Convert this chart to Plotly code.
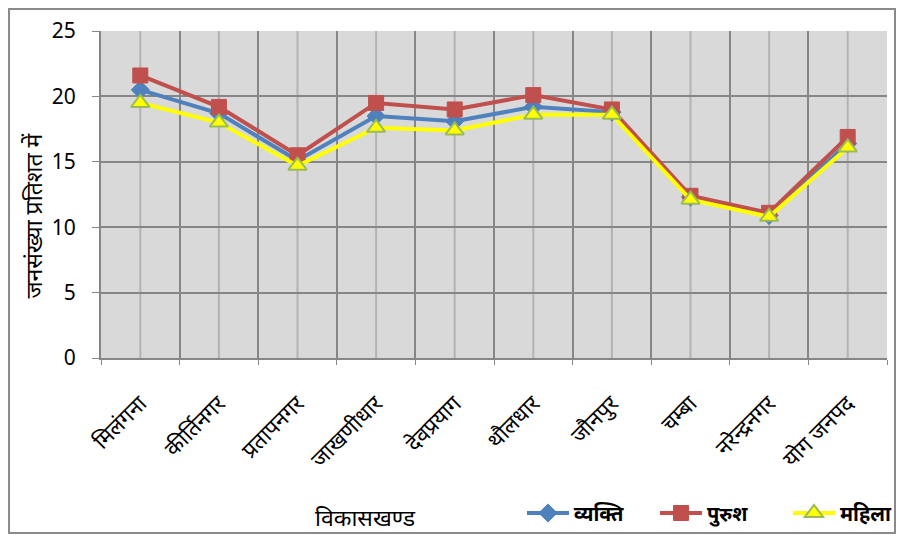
import plotly.graph_objects as go

categories = ["मिलंगना", "कीर्तिनगर", "प्रतापनगर", "जाखणीधार", "देवप्रयाग",
              "थौलधार", "जौनपुर", "चम्बा", "नरेन्द्रनगर", "योग जनपद"]
vyakti = [20.5, 18.7, 15.1, 18.5, 18.1, 19.2, 18.8, 12.3, 10.9, 16.4]
purush = [21.6, 19.2, 15.5, 19.5, 19.0, 20.1, 19.0, 12.4, 11.1, 16.9]
mahila = [19.5, 18.0, 14.7, 17.6, 17.4, 18.6, 18.6, 12.1, 10.8, 16.1]
y_ticks = [0, 5, 10, 15, 20, 25]

FONT = "Noto Sans, DejaVu Sans, Liberation Sans, sans-serif"

fig = go.Figure()
fig.add_trace(go.Scatter(
    x=categories, y=vyakti, name="व्यक्ति", mode="lines+markers",
    line=dict(color="#4f81bd", width=4),
    marker=dict(symbol="diamond", size=14, color="#4f81bd",
                line=dict(color="#4f81bd", width=1))))
fig.add_trace(go.Scatter(
    x=categories, y=purush, name="पुरुश", mode="lines+markers",
    line=dict(color="#c0504d", width=4),
    marker=dict(symbol="square", size=15, color="#c0504d",
                line=dict(color="#c0504d", width=1))))
fig.add_trace(go.Scatter(
    x=categories, y=mahila, name="महिला", mode="lines+markers",
    line=dict(color="#ffff00", width=4),
    marker=dict(symbol="triangle-up", size=16, color="#ffff00",
                line=dict(color="#9bbb59", width=2))))

# light grid lines at category centres
for c in categories:
    fig.add_shape(type="line", xref="x", yref="y", x0=c, x1=c, y0=0, y1=25,
                  line=dict(color="#b3b3b3", width=2), layer="below")

# outer chart border
fig.add_shape(type="rect", xref="paper", yref="paper",
              x0=-0.117, x1=1.0102, y0=-0.5352, y1=1.0673,
              line=dict(color="#898989", width=2), fillcolor="rgba(0,0,0,0)")

fig.add_annotation(text="विकासखण्ड", xref="paper", yref="paper",
                   x=0.336, y=-0.486, xanchor="center", yanchor="middle",
                   showarrow=False, font=dict(size=23, color="black"))
fig.add_annotation(text="जनसंख्या प्रतिशत में", xref="paper", yref="paper",
                   x=-0.086, y=0.437, xanchor="center", yanchor="middle",
                   showarrow=False, textangle=-90,
                   font=dict(size=23, color="black"))

fig.update_layout(
    width=888, height=526,
    margin=dict(l=93, r=9, t=23, b=176, autoexpand=False),
    paper_bgcolor="white", plot_bgcolor="#d9d9d9",
    font=dict(family=FONT, color="black"),
    showlegend=True,
    legend=dict(orientation="h", x=0.5356, xanchor="left", y=-0.474, yanchor="middle",
                font=dict(size=20, color="black", weight="bold"),
                bgcolor="rgba(0,0,0,0)",
                itemwidth=42, entrywidth=76, tracegroupgap=0),
    xaxis=dict(
        type="category", tickson="boundaries", range=[-0.5, 9.5],
        showgrid=True, gridcolor="#868686", gridwidth=2,
        showline=True, linecolor="#868686", linewidth=2,
        ticks="outside", ticklen=5, tickcolor="#868686",
        tickangle=-45, tickfont=dict(size=22, color="black"),
        ticklabelstandoff=22,
        automargin=False,
    ),
    yaxis=dict(
        range=[0, 25], tickvals=y_ticks,
        showgrid=True, gridcolor="#868686", gridwidth=2,
        showline=True, linecolor="#868686", linewidth=2,
        ticks="outside", ticklen=7, tickcolor="#868686",
        tickfont=dict(size=21, color="black"), zeroline=False,
        ticklabelstandoff=12,
        automargin=False,
    ),
)

fig.write_html("out.html")
